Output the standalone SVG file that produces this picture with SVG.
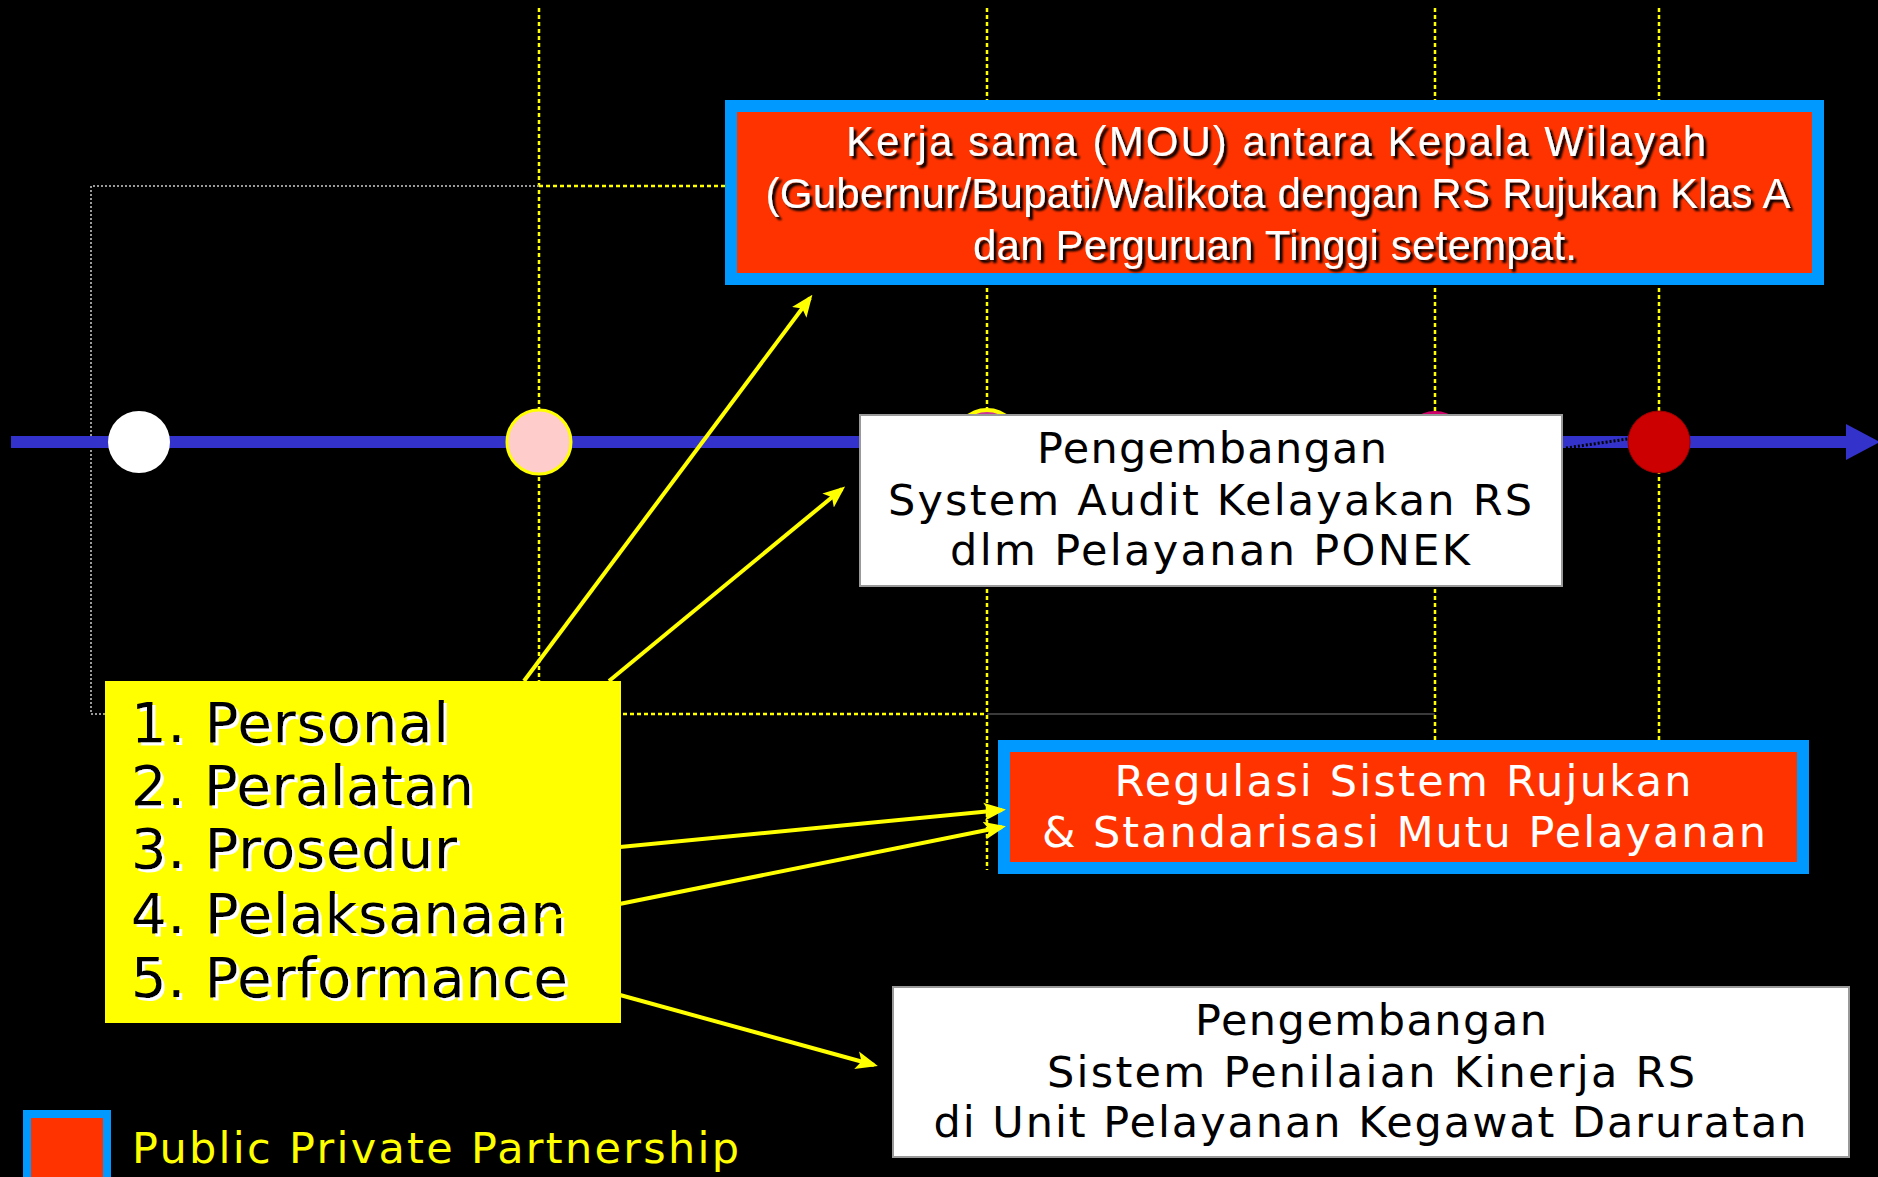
<svg xmlns="http://www.w3.org/2000/svg" width="1878" height="1177" viewBox="0 0 1878 1177">
<defs>
<style>
.vdot{stroke:#FFFF00;stroke-width:2.5;stroke-dasharray:4 3;fill:none}
.gdot{stroke:#9a9a9a;stroke-width:2;stroke-dasharray:2 2;fill:none}
.conn{stroke:#FFFF00;stroke-width:4;fill:none;marker-end:url(#ah)}
.ppp-out{fill:#FF3300;stroke:#0099FF;stroke-width:12}
.wbox{fill:#FFFFFF;stroke:#999999;stroke-width:2}
.verd{font-family:"DejaVu Sans","Verdana",sans-serif}
.arial{font-family:"Liberation Sans",Arial,sans-serif}
</style>
<marker id="ah" viewBox="0 0 22 22" refX="18" refY="11" markerWidth="22" markerHeight="22" markerUnits="userSpaceOnUse" orient="auto">
<path d="M0,2 L22,11 L0,20 L5,11 Z" fill="#FFFF00"/>
</marker>
<filter id="wsh" x="-5%" y="-30%" width="115%" height="170%">
<feOffset in="SourceAlpha" dx="3" dy="3" result="o"/>
<feFlood flood-color="#FFFFFF"/>
<feComposite operator="in" in2="o"/>
<feMerge><feMergeNode/><feMergeNode in="SourceGraphic"/></feMerge>
</filter>
<filter id="bsh" x="-5%" y="-30%" width="115%" height="170%">
<feOffset in="SourceAlpha" dx="3" dy="3" result="o"/>
<feGaussianBlur in="o" stdDeviation="1" result="b"/>
<feFlood flood-color="#000000"/>
<feComposite operator="in" in2="b"/>
<feMerge><feMergeNode/><feMergeNode in="SourceGraphic"/></feMerge>
</filter>
</defs>
<rect x="0" y="0" width="1878" height="1177" fill="#000000"/>

<g id="guides">
<line class="vdot" x1="539" y1="8" x2="539" y2="714"/>
<line class="vdot" x1="987" y1="8" x2="987" y2="870"/>
<line class="vdot" x1="1435" y1="8" x2="1435" y2="870"/>
<line class="vdot" x1="1659" y1="8" x2="1659" y2="870"/>
<polyline class="gdot" points="539,186 91,186 91,714 539,714"/>
<line class="vdot" x1="539" y1="186" x2="725" y2="186"/>
<line class="vdot" x1="539" y1="714" x2="987" y2="714"/>
<line x1="987" y1="714" x2="1435" y2="714" stroke="#3a3a3a" stroke-width="2"/>
</g>

<g id="timeline">
<rect x="11" y="436" width="1837" height="12" fill="#3333CC"/>
<polygon points="1846,424 1880,442 1846,460" fill="#3333CC"/>
<line x1="1566" y1="448" x2="1641" y2="437" stroke="#000000" stroke-width="3" stroke-dasharray="2 2"/>
</g>

<g id="milestone-1"><circle cx="139" cy="442" r="31" fill="#FFFFFF"/></g>
<g id="milestone-2"><circle cx="539" cy="442" r="32" fill="#FFCCCC" stroke="#FFFF00" stroke-width="3"/></g>
<g id="milestone-3"><circle cx="987" cy="442" r="32" fill="#CC3399" stroke="#FFFF00" stroke-width="4"/></g>
<g id="milestone-4"><circle cx="1435" cy="442" r="31" fill="#CC0066"/></g>
<g id="milestone-5"><circle cx="1659" cy="442" r="31" fill="#CC0000" stroke="#990000" stroke-width="1"/></g>

<g id="mou">
<rect class="ppp-out" x="731" y="106" width="1087" height="173"/>
<g class="arial" font-size="42" fill="#FFFFFF" text-anchor="middle" filter="url(#bsh)">
<text x="1276" y="156" textLength="860">Kerja sama (MOU) antara Kepala Wilayah</text>
<text x="1278" y="208" textLength="1025">(Gubernur/Bupati/Walikota dengan RS Rujukan Klas A</text>
<text x="1275" y="260" textLength="604">dan Perguruan Tinggi setempat.</text>
</g>
</g>

<g id="audit">
<rect class="wbox" x="860" y="415" width="702" height="171"/>
<g class="verd" font-size="43" fill="#000000" text-anchor="middle">
<text x="1212" y="463" textLength="350">Pengembangan</text>
<text x="1210" y="515" textLength="644">System Audit Kelayakan RS</text>
<text x="1210" y="565" textLength="520">dlm Pelayanan PONEK</text>
</g>
</g>

<g id="regulasi">
<rect class="ppp-out" x="1004" y="746" width="799" height="122"/>
<g class="verd" font-size="43" fill="#FFFFFF" text-anchor="middle">
<text x="1403" y="796" textLength="577">Regulasi Sistem Rujukan</text>
<text x="1404" y="847" textLength="724">&amp; Standarisasi Mutu Pelayanan</text>
</g>
</g>

<g id="kinerja">
<rect class="wbox" x="893" y="987" width="956" height="170"/>
<g class="verd" font-size="43" fill="#000000" text-anchor="middle">
<text x="1371" y="1035" textLength="352">Pengembangan</text>
<text x="1371" y="1087" textLength="648">Sistem Penilaian Kinerja RS</text>
<text x="1370" y="1137" textLength="873">di Unit Pelayanan Kegawat Daruratan</text>
</g>
</g>

<g id="factors">
<rect x="105" y="681" width="516" height="342" fill="#FFFF00"/>
<g class="verd" font-size="56" fill="#000000" filter="url(#wsh)">
<text x="131" y="742" textLength="318">1. Personal</text>
<text x="131" y="805" textLength="343">2. Peralatan</text>
<text x="131" y="868" textLength="326">3. Prosedur</text>
<text x="131" y="933" textLength="435">4. Pelaksanaan</text>
<text x="131" y="997" textLength="437">5. Performance</text>
</g>
</g>

<g id="connectors">
<line class="conn" x1="524" y1="681" x2="810" y2="298"/>
<line class="conn" x1="609" y1="681" x2="842" y2="489"/>
<line class="conn" x1="620" y1="847" x2="1002" y2="810"/>
<line class="conn" x1="540" y1="920" x2="1002" y2="827"/>
<line class="conn" x1="620" y1="995" x2="874" y2="1065"/>
</g>

<g id="legend">
<rect x="27" y="1114" width="80" height="67" fill="#FF3300" stroke="#0099FF" stroke-width="8"/>
<text class="verd" x="132" y="1163" font-size="43" fill="#FFFF00" textLength="607">Public Private Partnership</text>
</g>
</svg>
